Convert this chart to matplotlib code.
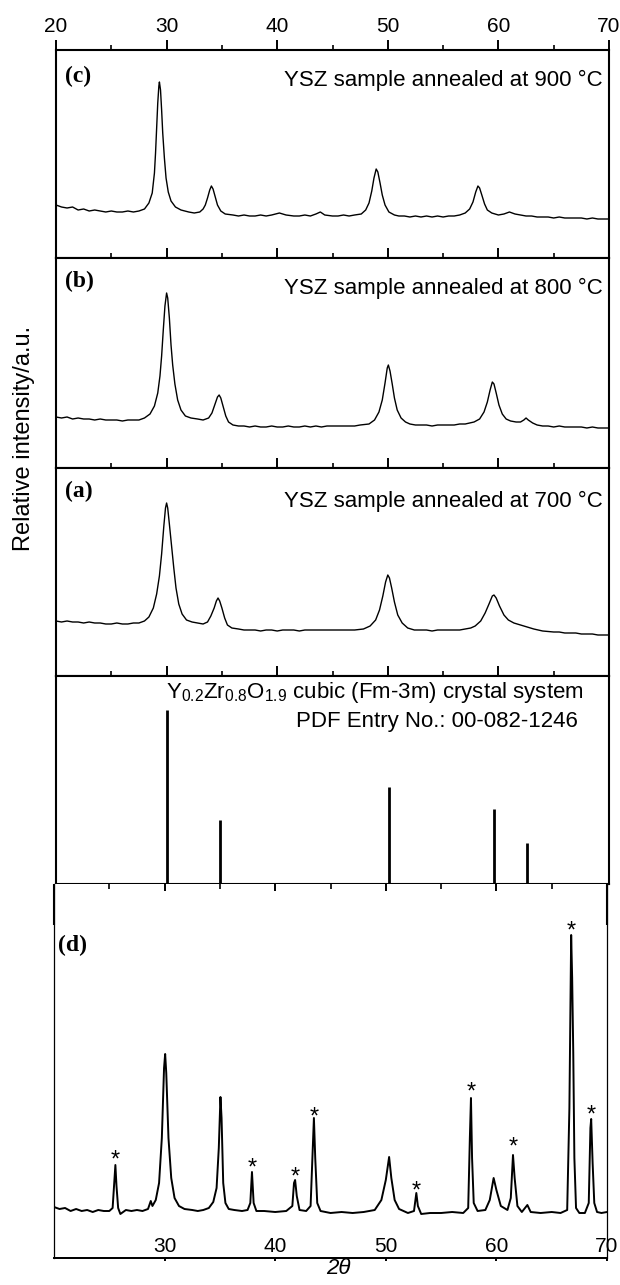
import numpy as np
import matplotlib
matplotlib.use("Agg")
import matplotlib.pyplot as plt
from matplotlib.ticker import MultipleLocator, NullLocator
from matplotlib.transforms import blended_transform_factory

plt.rcParams['font.family'] = ['Liberation Sans', 'DejaVu Sans']
plt.rcParams['mathtext.fontset'] = 'custom'
plt.rcParams['mathtext.rm'] = 'Liberation Sans'
plt.rcParams['mathtext.it'] = 'Liberation Sans:italic'

# ---------------- data (2theta in degrees, intensity in arbitrary units) ----------------
c_x = [20.0, 20.5, 21.0, 21.5, 22.0, 22.5, 23.0, 23.5, 24.0, 24.5, 25.0, 25.5, 26.0, 26.5, 27.0, 27.5,
       28.0, 28.4, 28.7, 28.9, 29.0, 29.1, 29.2, 29.3, 29.35, 29.45, 29.55, 29.65, 29.8, 29.95, 30.15,
       30.4, 30.8, 31.3, 32.0, 32.5, 33.0, 33.3, 33.5, 33.7, 33.9, 34.05, 34.2, 34.4, 34.6, 34.9, 35.3,
       36.0, 36.5, 37.0, 37.5, 38.0, 38.5, 39.0, 39.5, 40.2, 40.8, 41.5, 42.0, 42.5, 43.0, 43.5, 43.9,
       44.3, 45.0, 45.5, 46.0, 46.5, 47.0, 47.6, 48.0, 48.3, 48.55, 48.75, 48.95, 49.1, 49.3, 49.5,
       49.75, 50.1, 50.6, 51.0, 51.5, 52.0, 52.5, 53.0, 53.5, 54.0, 54.5, 55.0, 55.5, 56.0, 56.5, 57.0,
       57.4, 57.7, 57.95, 58.15, 58.3, 58.5, 58.75, 59.0, 59.4, 60.0, 60.5, 61.0, 61.5, 62.0, 62.5,
       63.0, 63.5, 64.0, 64.5, 65.0, 65.5, 66.0, 66.5, 67.0, 67.5, 68.0, 68.5, 69.0, 69.5, 70.0]
c_y = [53, 51, 50, 51, 48, 49, 47, 48, 47, 46, 47, 46, 46, 47, 46, 47,
       49, 55, 65, 85, 105, 130, 155, 172, 176, 168, 148, 125, 100, 80, 66,
       57, 51, 48, 46, 45, 46, 49, 53, 60, 68, 72, 69, 61, 53, 47, 44,
       43, 42, 43, 42, 42, 43, 42, 43, 45, 43, 42, 42, 43, 42, 44, 46,
       43, 42, 42, 43, 42, 43, 44, 48, 55, 67, 80, 89, 86, 75, 63,
       53, 46, 43, 42, 42, 41, 42, 41, 42, 41, 42, 41, 42, 42, 43, 45,
       49, 56, 66, 72, 70, 63, 54, 48, 45, 43, 44, 46, 44, 43, 42,
       42, 41, 41, 41, 40, 41, 40, 40, 40, 40, 39, 40, 39, 39, 39]

b_x = [20.0, 20.5, 21.0, 21.5, 22.0, 22.5, 23.0, 23.5, 24.0, 24.5, 25.0, 25.5, 26.0, 26.5, 27.0, 27.5,
       28.0, 28.5, 28.9, 29.2, 29.4, 29.55, 29.7, 29.85, 30.0, 30.1, 30.25, 30.4, 30.55, 30.75, 31.0,
       31.3, 31.7, 32.2, 32.8, 33.3, 33.8, 34.1, 34.35, 34.6, 34.75, 34.9, 35.1, 35.35, 35.6, 36.0,
       36.5, 37.0, 37.5, 38.0, 38.5, 39.0, 39.5, 40.0, 40.5, 41.0, 41.5, 42.0, 42.5, 43.0, 43.5, 44.0,
       44.5, 45.0, 45.5, 46.0, 46.5, 47.0, 47.5, 48.3, 48.8, 49.2, 49.5, 49.75, 49.95, 50.05, 50.2,
       50.4, 50.6, 50.85, 51.2, 51.6, 52.0, 52.5, 53.0, 53.5, 54.0, 54.5, 55.0, 55.5, 56.0, 56.5, 57.0,
       57.4, 57.8, 58.3, 58.7, 59.0, 59.25, 59.45, 59.6, 59.8, 60.05, 60.35, 60.7, 61.1, 61.6, 62.0,
       62.3, 62.5, 62.7, 63.1, 63.5, 64.0, 64.5, 65.0, 65.5, 66.0, 66.5, 67.0, 67.5, 68.0, 68.5, 69.0,
       69.5, 70.0]
b_y = [51, 50, 51, 49, 50, 49, 49, 48, 49, 48, 48, 48, 47, 48, 48, 48,
       50, 54, 62, 75, 92, 112, 138, 162, 175, 170, 150, 123, 103, 84, 68,
       58, 52, 50, 49, 48, 50, 55, 63, 71, 73, 70, 62, 52, 46, 43,
       42, 42, 41, 42, 41, 41, 42, 41, 41, 42, 41, 41, 42, 41, 42, 41,
       42, 42, 42, 42, 42, 42, 43, 44, 48, 56, 68, 85, 100, 103, 97,
       84, 70, 58, 50, 46, 44, 43, 43, 43, 42, 43, 43, 43, 43, 44, 44,
       45, 46, 49, 56, 66, 78, 86, 84, 75, 63, 54, 49, 47, 46, 46,
       48, 50, 48, 45, 43, 42, 42, 41, 42, 41, 41, 41, 41, 40, 41, 40,
       40, 40]

a_x = [20.0, 20.5, 21.0, 21.5, 22.0, 22.5, 23.0, 23.5, 24.0, 24.5, 25.0, 25.5, 26.0, 26.5, 27.0, 27.5,
       28.0, 28.4, 28.8, 29.1, 29.35, 29.55, 29.75, 29.9, 30.0, 30.1, 30.25, 30.45, 30.65, 30.85, 31.1,
       31.4, 31.8, 32.3, 32.8, 33.3, 33.7, 34.0, 34.3, 34.5, 34.65, 34.8, 35.0, 35.25, 35.5, 35.9, 36.5,
       37.0, 37.5, 38.0, 38.5, 39.0, 39.5, 40.0, 40.5, 41.0, 41.5, 42.0, 42.5, 43.0, 43.5, 44.0, 44.5,
       45.0, 45.5, 46.0, 46.5, 47.0, 47.8, 48.4, 48.9, 49.25, 49.55, 49.8, 50.0, 50.15, 50.35, 50.6,
       50.9, 51.3, 51.8, 52.4, 53.0, 53.5, 54.0, 54.5, 55.0, 55.5, 56.0, 56.5, 57.0, 57.5, 57.9, 58.4,
       58.8, 59.15, 59.45, 59.6, 59.8, 60.1, 60.5, 60.9, 61.4, 62.0, 62.6, 63.2, 64.0, 65.0, 65.5,
       66.0, 66.5, 67.0, 67.5, 68.0, 68.5, 69.0, 69.5, 70.0]
a_y = [55, 54, 55, 54, 54, 53, 54, 53, 53, 52, 52, 53, 52, 52, 53, 53,
       55, 59, 68, 82, 100, 122, 150, 168, 173, 168, 152, 130, 108, 88, 72,
       62, 56, 54, 53, 52, 54, 60, 68, 75, 78, 75, 68, 58, 51, 48, 47,
       46, 46, 46, 45, 46, 46, 45, 46, 46, 46, 45, 46, 46, 46, 46, 46,
       46, 46, 46, 46, 46, 47, 50, 56, 66, 80, 94, 101, 98, 88, 74,
       61, 53, 48, 46, 46, 46, 45, 46, 46, 46, 46, 46, 47, 48, 50, 55,
       63, 72, 80, 81, 78, 70, 61, 56, 53, 51, 49, 47, 45, 44, 44,
       43, 43, 43, 42, 42, 42, 41, 41, 41]

pdf_pos = [30.0, 34.8, 50.1, 59.6, 62.6]
pdf_int = [174, 64, 97, 75, 41]

d_x = [20.0, 20.5, 21.0, 21.5, 22.0, 22.5, 23.0, 23.5, 24.0, 24.5, 25.0, 25.3, 25.45, 25.55, 25.65,
       25.8, 26.0, 26.5, 27.0, 27.5, 28.0, 28.5, 28.75, 28.9, 29.2, 29.5, 29.75, 29.95, 30.05, 30.15,
       30.35, 30.6, 30.9, 31.3, 31.8, 32.5, 33.0, 33.5, 34.0, 34.4, 34.7, 34.9, 35.05, 35.15, 35.3,
       35.5, 35.8, 36.3, 37.0, 37.5, 37.75, 37.9, 38.05, 38.3, 39.0, 40.0, 41.0, 41.55, 41.7, 41.8,
       41.95, 42.2, 42.8, 43.2, 43.4, 43.5, 43.62, 43.8, 44.1, 45.0, 46.0, 47.0, 48.0, 49.0, 49.6,
       50.0, 50.3, 50.5, 50.8, 51.2, 52.0, 52.55, 52.7, 52.76, 52.9, 53.2, 54.0, 55.0, 56.0, 57.0,
       57.45, 57.6, 57.7, 57.8, 57.95, 58.3, 59.0, 59.4, 59.75, 60.0, 60.4, 61.0, 61.3, 61.5, 61.65,
       61.9, 62.3, 62.8, 63.1, 64.0, 65.0, 65.8, 66.4, 66.6, 66.76, 66.85, 66.95, 67.05, 67.2, 67.5,
       68.0, 68.35, 68.5, 68.57, 68.7, 68.85, 69.1, 69.5, 70.0]
d_y = [51, 49, 50, 47, 49, 47, 48, 46, 48, 47, 47, 50, 75, 93, 72,
       50, 44, 48, 47, 48, 47, 49, 57, 52, 58, 75, 120, 190, 204, 185,
       120, 80, 60, 52, 49, 48, 47, 48, 50, 56, 70, 110, 161, 140, 75,
       55, 49, 48, 47, 48, 55, 86, 55, 47, 47, 46, 47, 52, 75, 78,
       62, 48, 47, 52, 110, 140, 100, 55, 47, 45, 46, 45, 46, 48, 58,
       78, 101, 80, 58, 49, 45, 47, 60, 65, 52, 44, 45, 45, 46, 45,
       50, 120, 160, 100, 55, 47, 48, 58, 80, 68, 52, 48, 60, 103, 80,
       52, 46, 53, 46, 45, 46, 45, 48, 150, 323, 280, 205, 100, 50, 45,
       45, 55, 130, 139, 95, 55, 46, 45, 46]

star_x = [25.55, 37.9, 41.8, 43.5, 52.76, 57.7, 61.5, 66.76, 68.57]
star_y = [91, 83, 74, 134, 60, 159, 104, 320, 136]

top_ticks = [20, 30, 40, 50, 60, 70]
d_ticks = [30, 40, 50, 60, 70]

panel_text = ["YSZ sample annealed at 900 \u00b0C",
              "YSZ sample annealed at 800 \u00b0C",
              "YSZ sample annealed at 700 \u00b0C"]
panel_labels = ["(c)", "(b)", "(a)"]

# ---------------- layout (pixels) ----------------
W, H = 620, 1285
fig = plt.figure(figsize=(W / 100, H / 100), dpi=100)

def ax_at(left, right, top, bottom):
    return fig.add_axes([left / W, 1 - bottom / H, (right - left) / W, (bottom - top) / H])

L, R = 56, 609
bounds = [(50, 258), (258, 468), (468, 676)]
SP = 1.5
TXT = 16
LAB = 17

def style_frame(ax, lw=SP):
    for s in ax.spines.values():
        s.set_linewidth(lw)
    ax.set_yticks([])
    ax.set_xlim(20, 70)
    ax.xaxis.set_major_locator(MultipleLocator(10))
    ax.xaxis.set_minor_locator(MultipleLocator(5))

series = [(c_x, c_y), (b_x, b_y), (a_x, a_y)]
txt_base = [0.827, 0.827, 0.814]
lab_base = [0.848, 0.863, 0.862]
for i, ((top, bot), (xs, ys)) in enumerate(zip(bounds, series)):
    ax = ax_at(L, R, top, bot)
    style_frame(ax)
    ax.set_ylim(0, bot - top)
    ax.plot(xs, ys, color='black', lw=1.0)
    ax.tick_params(axis='x', which='both', bottom=False, top=True, labelbottom=False,
                   labeltop=(i == 0), direction='out', width=1.4)
    ax.tick_params(axis='x', which='major', length=7.2, pad=3, labelsize=15)
    ax.tick_params(axis='x', which='minor', length=3.6, width=1.2)
    if i == 0:
        ax.set_xticks(top_ticks)
    ax.text(0.989, txt_base[i], panel_text[i], transform=ax.transAxes, ha='right',
            va='baseline', fontsize=TXT)
    ax.text(0.016, lab_base[i], panel_labels[i], transform=ax.transAxes, ha='left',
            va='baseline', fontsize=LAB, fontweight='bold', family='Liberation Serif')

# PDF reference panel
axp = ax_at(L, R, 676, 884)
style_frame(axp)
axp.set_ylim(0, 208)
axp.vlines(pdf_pos, 0, pdf_int, color='black', lw=2.0)
axp.tick_params(axis='x', which='both', bottom=False, top=True, labelbottom=False,
                labeltop=False, direction='out', width=1.4)
axp.tick_params(axis='x', which='major', length=7.2)
axp.tick_params(axis='x', which='minor', length=3.6, width=1.2)
axp.text(0.955, 0.893, r'Y$_{0.2}$Zr$_{0.8}$O$_{1.9}$ cubic (Fm-3m) crystal system',
         transform=axp.transAxes, ha='right', va='baseline', fontsize=TXT)
axp.text(0.944, 0.753, 'PDF Entry No.: 00-082-1246', transform=axp.transAxes,
         ha='right', va='baseline', fontsize=TXT)

# (d) panel
axd = ax_at(54, 607, 884, 1258)
axd.set_xlim(20, 70)
axd.set_ylim(0, 374)
axd.set_yticks([])
axd.spines['top'].set_visible(False)
axd.spines['left'].set_linewidth(0.9)
axd.spines['right'].set_linewidth(0.9)
axd.spines['bottom'].set_linewidth(1.3)
axd.xaxis.set_major_locator(MultipleLocator(10))
axd.xaxis.set_minor_locator(MultipleLocator(5))
axd.tick_params(axis='x', which='both', bottom=False, top=True, labelbottom=False,
                labeltop=False, direction='in', width=1.4)
axd.tick_params(axis='x', which='major', length=4.8)
axd.tick_params(axis='x', which='minor', length=3.8, width=1.2)
axd.plot(d_x, d_y, color='black', lw=1.4)
for sx, sy in zip(star_x, star_y):
    axd.text(sx, sy, '*', ha='center', va='baseline', fontsize=17)
sec = axd.secondary_xaxis('bottom')
sec.set_xticks(d_ticks)
sec.xaxis.set_minor_locator(NullLocator())
sec.tick_params(axis='x', direction='out', length=1.8, width=1.4, labelbottom=False)
sec.spines['bottom'].set_linewidth(1.3)
trans = blended_transform_factory(axd.transData, axd.transAxes)
for t in d_ticks:
    axd.text(t, 0.017, str(t), transform=trans, ha='center', va='baseline', fontsize=15)
for xa in (0, 1):
    axd.plot([xa, xa], [1, 1 - 41 / 374], transform=axd.transAxes, color='black',
             lw=SP, clip_on=False, solid_capstyle='butt')
axd.text(0.008, 0.821, '(d)', transform=axd.transAxes, ha='left', va='baseline',
         fontsize=LAB, fontweight='bold', family='Liberation Serif')

fig.text(338 / W, 1 - 1274 / H, '2\u03b8', ha='center', va='baseline', fontsize=16,
         style='italic')
fig.text(24 / W, 1 - 438 / H, 'Relative intensity/a.u.', rotation=90, ha='center',
         va='center', fontsize=17)

fig.savefig('out.png', dpi=100)
